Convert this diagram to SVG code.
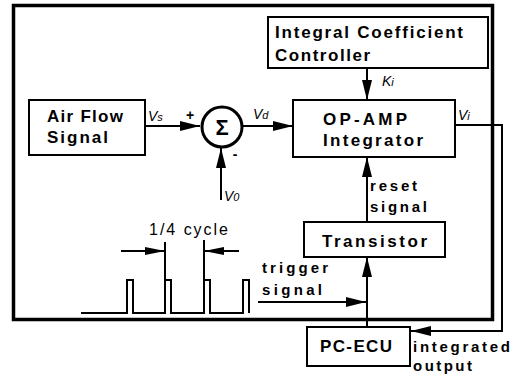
<svg xmlns="http://www.w3.org/2000/svg" width="521" height="381" viewBox="0 0 521 381">
<style>
.box{fill:#fff;stroke:#000;stroke-width:2}
.bt{font-family:"Liberation Sans",Arial,sans-serif;font-weight:bold;font-size:17px;fill:#000}
.lt{font-family:"Liberation Sans",Arial,sans-serif;font-weight:bold;font-size:15px;fill:#000}
.it{font-family:"Liberation Sans",Arial,sans-serif;font-style:italic;font-size:14px;fill:#000}
.sub{font-size:11px}
.rt{font-family:"Liberation Sans",Arial,sans-serif;font-size:16px;fill:#000}
.ln{fill:none;stroke:#000;stroke-width:2}
.ar{marker-end:url(#ah)}
.sa{marker-end:url(#ah2)}
</style>
<defs>
<marker id="ah" markerUnits="userSpaceOnUse" markerWidth="20" markerHeight="10" refX="20" refY="5" orient="auto">
<path d="M0,0 L20,5 L0,10 z" fill="#000"/>
</marker>
<marker id="ah2" markerUnits="userSpaceOnUse" markerWidth="20" markerHeight="10" refX="20" refY="5" orient="auto">
<path d="M0,1 L20,5 L0,9 z" fill="#000"/>
</marker>
</defs>
<rect width="521" height="381" fill="#fff"/>
<g id="frame">
<rect x="13.5" y="5.5" width="479" height="314" fill="none" stroke="#000" stroke-width="3.5"/>
</g>
<g id="connectors">
<line class="ln ar" x1="145" y1="126" x2="200" y2="126"/>
<line class="ln ar" x1="243" y1="126" x2="293" y2="126"/>
<line class="ln ar" x1="221" y1="200" x2="221" y2="148"/>
<line class="ln ar" x1="367" y1="68" x2="367" y2="100"/>
<line class="ln ar" x1="367" y1="222" x2="367" y2="157"/>
<line class="ln ar" x1="367" y1="327" x2="367" y2="257"/>
<line class="ln ar" x1="258" y1="302" x2="366" y2="302"/>
<polyline class="ln ar" points="455,125 502,125 502,331 411,331"/>
</g>
<g id="pulses">
<polyline class="ln" stroke-width="1.5" points="81,313 127,313 127,280 133,280 133,313 165,313 165,280 171,280 171,313 204,313 204,280 210,280 210,313 243,313 243,280 249,280 249,313"/>
<line class="ln" stroke-width="1.5" x1="165" y1="242" x2="165" y2="280"/>
<line class="ln" stroke-width="1.5" x1="204" y1="240" x2="204" y2="280"/>
<line class="ln sa" stroke-width="1.5" x1="121" y1="251" x2="165" y2="251"/>
<line class="ln sa" stroke-width="1.5" x1="239" y1="251" x2="204" y2="251"/>
<text class="rt" x="149" y="235" textLength="79" lengthAdjust="spacing">1/4 cycle</text>
</g>
<g id="airflow">
<rect class="box" x="29" y="100" width="116" height="55"/>
<text class="bt" x="47" y="122" textLength="76" lengthAdjust="spacing">Air Flow</text>
<text class="bt" x="47" y="143" textLength="61" lengthAdjust="spacing">Signal</text>
</g>
<g id="sum">
<circle cx="222" cy="127" r="20" fill="#fff" stroke="#000" stroke-width="3"/>
<text x="222" y="135" text-anchor="middle" font-family="'Liberation Sans',Arial,sans-serif" font-weight="bold" font-size="22">Σ</text>
<text x="190" y="120" text-anchor="middle" font-family="'Liberation Sans',Arial,sans-serif" font-weight="bold" font-size="14">+</text>
<text x="235" y="159" text-anchor="middle" font-family="'Liberation Sans',Arial,sans-serif" font-weight="bold" font-size="14">-</text>
</g>
<g id="labels">
<text class="it" x="148" y="121">V<tspan class="sub">s</tspan></text>
<text class="it" x="253" y="119">V<tspan class="sub">d</tspan></text>
<text class="it" x="382" y="86">K<tspan class="sub">i</tspan></text>
<text class="it" x="458" y="120">V<tspan class="sub">i</tspan></text>
<text class="it" x="224" y="201">V<tspan class="sub">0</tspan></text>
<text class="lt" x="370" y="191" textLength="47" lengthAdjust="spacing">reset</text>
<text class="lt" x="370" y="212" textLength="57" lengthAdjust="spacing">signal</text>
<text class="lt" x="262" y="273" textLength="66" lengthAdjust="spacing">trigger</text>
<text class="lt" x="262" y="295" textLength="60" lengthAdjust="spacing">signal</text>
<text class="lt" x="413" y="352" font-size="16" textLength="97" lengthAdjust="spacing">integrated</text>
<text class="lt" x="413" y="371" font-size="16" textLength="59" lengthAdjust="spacing">output</text>
</g>
<g id="icc">
<rect class="box" x="268" y="17" width="220" height="51"/>
<text class="bt" x="275" y="38" textLength="188" lengthAdjust="spacing">Integral Coefficient</text>
<text class="bt" x="275" y="61" textLength="95" lengthAdjust="spacing">Controller</text>
</g>
<g id="opamp">
<rect class="box" x="293" y="100" width="162" height="57"/>
<text class="bt" x="323" y="125" textLength="84" lengthAdjust="spacing">OP-AMP</text>
<text class="bt" x="323" y="146" textLength="100" lengthAdjust="spacing">Integrator</text>
</g>
<g id="transistor">
<rect class="box" x="304" y="222" width="141" height="35"/>
<text class="bt" x="322" y="247" textLength="105" lengthAdjust="spacing">Transistor</text>
</g>
<g id="pcecu">
<rect class="box" x="307" y="327" width="103" height="39"/>
<text class="bt" x="320" y="352" textLength="72" lengthAdjust="spacing">PC-ECU</text>
</g>
</svg>
